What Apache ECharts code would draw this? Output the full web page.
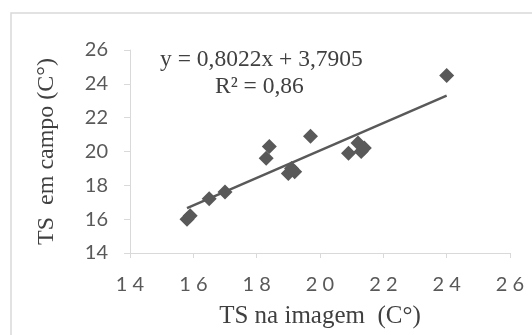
<!DOCTYPE html>
<html>
<head>
<meta charset="utf-8">
<script src="https://cdn.jsdelivr.net/npm/echarts@6/dist/echarts.min.js"></script>
<style>
	html, body { margin: 0; padding: 0; background: #fff; }
	#chart { width: 532px; height: 335px; }
</style>
</head>
<body>
<div id="chart"></div>
<script>
// TS na imagem (x) vs TS em campo (y)
var imgTs = [15.8, 15.9, 16.5, 17.0, 18.3, 18.4, 19.0, 19.1, 19.2, 19.7, 20.9, 21.2, 21.3, 21.4, 24.0];
var campoTs = [16.0, 16.2, 17.2, 17.6, 19.6, 20.3, 18.7, 19.0, 18.8, 20.9, 19.9, 20.5, 20.0, 20.2, 24.5];

// linha de tendencia (extremos)
var trendX = [15.8, 24.0];
var trendY = [16.65, 23.3];

var eqLine1 = 'y = 0,8022x + 3,7905';
var eqLine2 = 'R² = 0,86';

var axisMin = 14, axisMax = 26, axisStep = 2;

var pts = imgTs.map(function(v, i) { return [v, campoTs[i]]; });
var trend = trendX.map(function(v, i) { return [v, trendY[i]]; });

var gray = '#595959';
var lineGray = '#d9d9d9';

var chart = echarts.init(document.getElementById('chart'));
chart.setOption({
	animation: false,
	grid: {
		left: 130,
		right: 22,
		top: 50,
		bottom: 82
	},
	xAxis: {
		type: 'value',
		min: axisMin,
		max: axisMax,
		interval: axisStep,
		splitLine: { show: false },
		axisLine: { show: true, lineStyle: { color: lineGray, width: 1 } },
		axisTick: { show: true, length: 5, lineStyle: { color: lineGray } },
		axisLabel: {
			color: gray,
			fontFamily: 'Lato',
			fontSize: 20,
			margin: 22,
			formatter: function(v) { return String(v).split('').join(' '); }
		},
		name: 'TS na imagem  (C°)',
		nameLocation: 'middle',
		nameGap: 51,
		nameTextStyle: { color: '#404040', fontFamily: 'Liberation Serif', fontSize: 25 }
	},
	yAxis: {
		type: 'value',
		min: axisMin,
		max: axisMax,
		interval: axisStep,
		splitLine: { show: false },
		axisLine: { show: true, lineStyle: { color: lineGray, width: 1 } },
		axisTick: { show: true, length: 6, lineStyle: { color: lineGray } },
		axisLabel: {
			color: gray,
			fontFamily: 'Lato',
			fontSize: 20,
			margin: 22
		},
		name: 'TS  em campo (C°)',
		nameLocation: 'middle',
		nameGap: 71,
		nameTextStyle: { color: '#404040', fontFamily: 'Liberation Serif', fontSize: 24 }
	},
	graphic: [{
		type: 'rect',
		shape: { x: 11, y: 13, width: 600, height: 400 },
		style: { fill: 'none', stroke: lineGray, lineWidth: 1.5 },
		silent: true
	}, {
		type: 'text',
		left: 160,
		top: 48,
		style: { text: eqLine1, font: '23.5px "Liberation Serif"', fill: '#404040' }
	}, {
		type: 'text',
		left: 215,
		top: 75,
		style: { text: eqLine2, font: '23.5px "Liberation Serif"', fill: '#404040' }
	}],
	series: [{
		type: 'line',
		data: trend,
		symbol: 'none',
		lineStyle: { color: gray, width: 2.5 },
		z: 1
	}, {
		type: 'scatter',
		data: pts,
		symbol: 'diamond',
		symbolSize: 15,
		itemStyle: { color: gray, opacity: 1 },
		z: 2
	}]
});
</script>
</body>
</html>
